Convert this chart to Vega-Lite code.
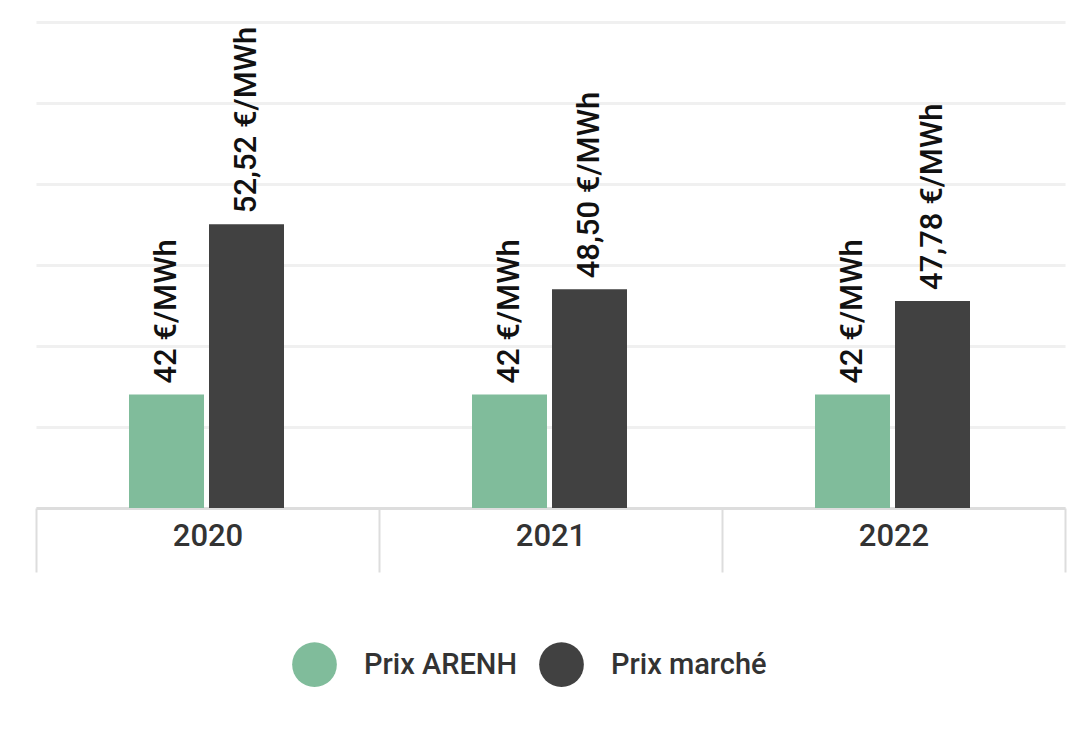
{
  "$schema": "https://vega.github.io/schema/vega-lite/v6.json",
  "autosize": "none",
  "width": 1029,
  "height": 486,
  "padding": {"left": 36, "top": 22, "right": 6, "bottom": 244},
  "background": "white",
  "config": {"view": {"stroke": null}, "font": "Roboto"},
  "data": {"values": [
    {"annee": "2020", "serie": "Prix ARENH", "prix": 42, "label": "42 €/MWh"},
    {"annee": "2020", "serie": "Prix marché", "prix": 52.52, "label": "52,52 €/MWh"},
    {"annee": "2021", "serie": "Prix ARENH", "prix": 42, "label": "42 €/MWh"},
    {"annee": "2021", "serie": "Prix marché", "prix": 48.50, "label": "48,50 €/MWh"},
    {"annee": "2022", "serie": "Prix ARENH", "prix": 42, "label": "42 €/MWh"},
    {"annee": "2022", "serie": "Prix marché", "prix": 47.78, "label": "47,78 €/MWh"}
  ]},
  "encoding": {
    "x": {"field": "annee", "type": "nominal", "title": null,
      "scale": {"paddingInner": 0, "paddingOuter": 0},
      "axis": {"orient": "bottom", "tickBand": "extent", "tickSize": 64, "tickColor": "#dddddd", "tickWidth": 2,
        "domainColor": "#dddddd", "domainWidth": 3, "labelAngle": 0, "labelFontSize": 31, "labelColor": "#333333",
        "labelFontWeight": 500, "labelPadding": -51, "labelBaseline": "top", "labelFont": "Roboto"}},
    "xOffset": {"field": "serie", "type": "nominal", "scale": {"range": [93, 248], "paddingInner": 0.0625, "paddingOuter": 0}},
    "y": {"field": "prix", "type": "quantitative", "title": null,
      "scale": {"domain": [35, 65], "clamp": true, "zero": false, "nice": false},
      "axis": {"values": [35, 40, 45, 50, 55, 60, 65], "labels": false, "ticks": false, "domain": false,
        "grid": true, "gridColor": "#f0f0f0", "gridWidth": 3}}
  },
  "layer": [
    {"mark": {"type": "bar"},
      "encoding": {"color": {"field": "serie", "type": "nominal", "title": null,
        "scale": {"domain": ["Prix ARENH", "Prix marché"], "range": ["#80bc9b", "#414141"]},
        "legend": {"orient": "none", "legendX": 256, "legendY": 620, "direction": "horizontal",
          "symbolType": "circle", "symbolSize": 2000, "symbolStrokeWidth": 0, "symbolOpacity": 1,
          "labelFontSize": 29, "labelFontWeight": 500, "labelColor": "#333333", "labelFont": "Roboto", "labelOffset": 27, "columnPadding": 22}}}},
    {"mark": {"type": "text", "angle": 270, "align": "left", "baseline": "middle", "dx": 11, "fontSize": 31, "fontWeight": 500, "font": "Roboto", "color": "#111111"},
      "encoding": {"text": {"field": "label"}}}
  ]
}
